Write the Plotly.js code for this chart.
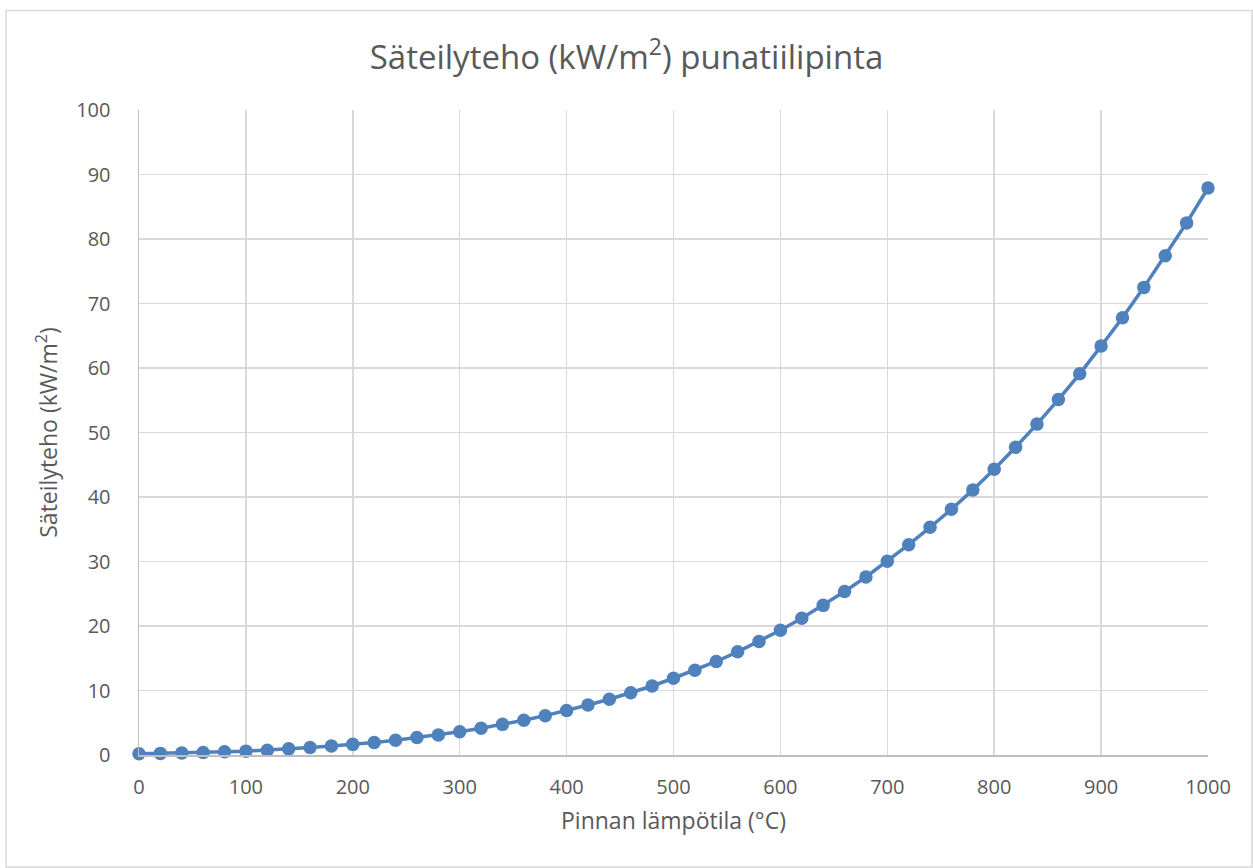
<!DOCTYPE html>
<html>
<head>
<meta charset="utf-8">
<script src="https://cdn.plot.ly/plotly-3.0.1.min.js"></script>
<style>
  html, body { margin: 0; padding: 0; background: #ffffff; }
  #chart { width: 1253px; height: 868px; }
</style>
</head>
<body>
<div id="chart"></div>
<script>
// Surface temperature (°C)
const temperatures = [0, 20, 40, 60, 80, 100, 120, 140, 160, 180, 200, 220, 240, 260, 280, 300,
  320, 340, 360, 380, 400, 420, 440, 460, 480, 500, 520, 540, 560, 580, 600, 620, 640, 660, 680,
  700, 720, 740, 760, 780, 800, 820, 840, 860, 880, 900, 920, 940, 960, 980, 1000];
// Radiated power (kW/m²)
const radiation = [0.2, 0.25, 0.3, 0.4, 0.5, 0.6, 0.75, 0.95, 1.15, 1.4, 1.65, 1.95, 2.3, 2.7, 3.1, 3.6,
  4.15, 4.75, 5.4, 6.1, 6.9, 7.75, 8.65, 9.65, 10.7, 11.9, 13.15, 14.5, 16.0, 17.6, 19.35, 21.2, 23.2,
  25.35, 27.6, 30.05, 32.6, 35.3, 38.1, 41.1, 44.3, 47.7, 51.3, 55.1, 59.1, 63.4, 67.8, 72.5, 77.4,
  82.5, 87.9];
const xTicks = [0, 100, 200, 300, 400, 500, 600, 700, 800, 900, 1000];
const yTicks = [0, 10, 20, 30, 40, 50, 60, 70, 80, 90, 100];

const chartTitle = 'Säteilyteho (kW/m<sup>2</sup>) punatiilipinta';
const xTitle = 'Pinnan lämpötila (°C)';
const yTitle = 'Säteilyteho (kW/m<sup>2</sup>)';

const fontFamily = '"Open Sans", "Noto Sans", sans-serif';
const textColor = '#595959';
const gridColor = '#d9d9d9';

const trace = {
  x: temperatures,
  y: radiation,
  type: 'scatter',
  mode: 'lines+markers',
  line: { color: '#4f81bd', width: 3.5 },
  marker: { color: '#4f81bd', size: 13.5 },
  cliponaxis: false,
  hoverinfo: 'x+y'
};

const L = 139, R = 45, T = 110, B = 113;
const plotW = 1253 - L - R, plotH = 868 - T - B;

const layout = {
  width: 1253,
  height: 868,
  margin: { l: L, r: R, t: T, b: B, pad: 0 },
  paper_bgcolor: '#ffffff',
  plot_bgcolor: '#ffffff',
  showlegend: false,
  font: { family: fontFamily, color: textColor, size: 20 },
  title: {
    text: chartTitle,
    font: { family: fontFamily, size: 33, color: textColor },
    x: 0.5, xanchor: 'center',
    y: 1 - 57 / 868, yanchor: 'middle'
  },
  xaxis: {
    range: [0, 1000],
    tickvals: xTicks,
    ticktext: xTicks.map(String),
    showgrid: true,
    gridcolor: gridColor,
    gridwidth: 1.5,
    zeroline: false,
    showline: true,
    linecolor: '#bfbfbf',
    linewidth: 1.5,
    ticks: 'outside',
    ticklen: 13,
    tickcolor: 'rgba(0,0,0,0)',
    tickfont: { family: fontFamily, size: 20, color: textColor },
    title: { text: xTitle, font: { family: fontFamily, size: 23, color: textColor }, standoff: 14 },
    fixedrange: true
  },
  yaxis: {
    range: [0, 100],
    tickvals: yTicks,
    ticktext: yTicks.map(String),
    showgrid: true,
    gridcolor: gridColor,
    gridwidth: 1.5,
    zeroline: false,
    showline: true,
    linecolor: '#bfbfbf',
    linewidth: 1.5,
    ticks: 'outside',
    ticklen: 23,
    tickcolor: 'rgba(0,0,0,0)',
    tickfont: { family: fontFamily, size: 20, color: textColor },
    title: { text: yTitle, font: { family: fontFamily, size: 23, color: textColor }, standoff: 12 },
    fixedrange: true
  },
  shapes: [{
    type: 'rect',
    xref: 'paper', yref: 'paper',
    x0: (6 - L) / plotW, x1: (1252 - L) / plotW,
    y0: (868 - B - 867) / plotH, y1: (868 - B - 10.5) / plotH,
    line: { color: '#d9d9d9', width: 1.5 },
    fillcolor: 'rgba(0,0,0,0)',
    layer: 'below'
  }]
};

Plotly.newPlot('chart', [trace], layout, { displayModeBar: false, staticPlot: true });
</script>
</body>
</html>
